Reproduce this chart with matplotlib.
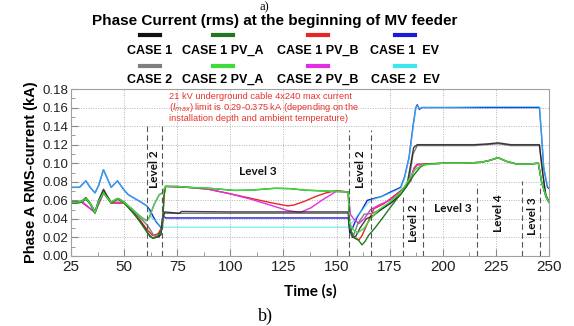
import matplotlib
matplotlib.use("Agg")
import matplotlib.pyplot as plt
from matplotlib.lines import Line2D
from matplotlib.ticker import MultipleLocator

# ---------------- data ----------------
t_case1 = [25, 28, 30, 32, 34, 36.3, 38, 40.3, 42, 43.9, 46.9, 48, 50, 54, 58.3, 62.2, 63.8, 66.1, 67.4, 68, 69, 76, 77,
           100, 130, 155.5, 156.2, 157.5, 159, 161, 164, 167.6, 171, 175.5, 180, 183, 185, 186.3, 188, 200, 215, 222,
           226, 232, 245.5, 247, 248.5, 250]
v_case1 = [0.058, 0.058, 0.059, 0.063, 0.057, 0.047, 0.060, 0.072, 0.065, 0.058, 0.062, 0.061, 0.058, 0.047, 0.035,
           0.021, 0.019, 0.021, 0.023, 0.040, 0.0475, 0.046, 0.048, 0.0475, 0.0475, 0.0475, 0.028, 0.020, 0.021, 0.030,
           0.040, 0.044, 0.050, 0.057, 0.066, 0.075, 0.100, 0.117, 0.120, 0.120, 0.120, 0.121, 0.122, 0.120, 0.120,
           0.090, 0.065, 0.058]

t_case2 = [25, 28, 30, 32, 34, 36.3, 38, 40.3, 42, 43.9, 46.9, 48, 50, 54, 58, 61, 64, 66.5, 68, 69, 100, 155.5, 156.2,
           158, 160, 163, 167, 172, 176, 180, 184, 186, 188, 200, 215, 226, 232, 245.5, 247, 248.5, 250]
v_case2 = [0.058, 0.058, 0.059, 0.062, 0.057, 0.048, 0.060, 0.070, 0.064, 0.058, 0.062, 0.061, 0.058, 0.050, 0.040,
           0.033, 0.022, 0.020, 0.035, 0.046, 0.046, 0.046, 0.030, 0.022, 0.035, 0.045, 0.046, 0.052, 0.058, 0.066,
           0.080, 0.110, 0.119, 0.119, 0.119, 0.121, 0.119, 0.119, 0.090, 0.066, 0.059]

t_case1_pva = [25, 28, 30, 32, 34, 36.3, 38, 40.3, 42, 43.9, 46.9, 48, 50, 55, 58, 61, 63.5, 66, 68, 68.8, 69.5, 75, 80,
               90, 102, 110, 121, 128, 135, 145, 155.5, 156.2, 158, 160, 162, 163.5, 165, 168, 172, 175.5, 181.6, 186.3,
               189.5, 192, 200, 210, 218, 222, 226, 230, 235, 240, 245, 246.5, 248.6, 250]
v_case1_pva = [0.057, 0.057, 0.058, 0.061, 0.056, 0.046, 0.058, 0.068, 0.063, 0.057, 0.061, 0.060, 0.057, 0.045, 0.035,
               0.025, 0.019, 0.022, 0.030, 0.065, 0.075, 0.075, 0.074, 0.073, 0.0707, 0.071, 0.073, 0.0726, 0.071,
               0.070, 0.069, 0.030, 0.020, 0.018, 0.012, 0.016, 0.022, 0.030, 0.042, 0.053, 0.071, 0.087, 0.096, 0.099,
               0.100, 0.100, 0.101, 0.103, 0.106, 0.102, 0.099, 0.099, 0.100, 0.080, 0.064, 0.058]

t_case2_pva = [25, 28, 30, 32, 34, 36.3, 38, 40.3, 42, 43.9, 46.9, 48, 50, 55, 58, 60.5, 62, 64, 66.5, 68, 69.5, 75, 80,
               90, 102, 110, 121, 128, 135, 145, 155.5, 156.2, 158, 160, 163, 166, 170, 175, 180, 184, 187, 190, 200,
               210, 218, 222, 226, 230, 235, 240, 245, 246.5, 248.6, 250]
v_case2_pva = [0.058, 0.058, 0.059, 0.062, 0.057, 0.047, 0.059, 0.068, 0.063, 0.058, 0.062, 0.061, 0.058, 0.048, 0.042,
               0.038, 0.042, 0.055, 0.066, 0.068, 0.075, 0.075, 0.074, 0.073, 0.0707, 0.071, 0.073, 0.0726, 0.071,
               0.070, 0.069, 0.035, 0.028, 0.025, 0.030, 0.040, 0.050, 0.058, 0.068, 0.082, 0.093, 0.098, 0.100, 0.100,
               0.101, 0.103, 0.106, 0.102, 0.099, 0.099, 0.100, 0.080, 0.064, 0.058]

t_case1_pvb = [25, 30, 36.3, 40.3, 43.9, 50, 55, 58, 61, 63.5, 66, 68, 68.8, 69.5, 80, 89.6, 100, 110, 120, 127, 130,
               135, 140, 145, 150, 155.5, 156.2, 158, 160.4, 162, 164.5, 167.6, 172, 175.5, 180, 185, 186.5, 188, 200,
               210, 218, 222, 226, 230, 235, 240, 245, 246.5, 248.6, 250]
v_case1_pvb = [0.057, 0.058, 0.047, 0.068, 0.057, 0.057, 0.046, 0.037, 0.028, 0.022, 0.024, 0.032, 0.065, 0.075, 0.074,
               0.072, 0.067, 0.062, 0.057, 0.054, 0.055, 0.059, 0.064, 0.068, 0.0705, 0.069, 0.030, 0.020, 0.017, 0.022,
               0.035, 0.051, 0.056, 0.062, 0.070, 0.081, 0.095, 0.099, 0.100, 0.100, 0.101, 0.103, 0.106, 0.102,
               0.099, 0.099, 0.100, 0.080, 0.064, 0.058]

t_case2_pvb = [25, 30, 36.3, 40.3, 43.9, 50, 55, 58, 60.5, 62, 64, 66.5, 68, 69.5, 80, 89.6, 100, 110, 120, 127, 133,
               138, 143, 148, 150, 155.5, 156.5, 158, 160.5, 163, 166, 170, 175, 180, 184, 186, 188, 200, 210, 218,
               222, 226, 230, 235, 240, 245, 246.5, 248.6, 250]
v_case2_pvb = [0.058, 0.059, 0.047, 0.068, 0.058, 0.058, 0.048, 0.042, 0.038, 0.042, 0.055, 0.066, 0.068, 0.075, 0.074,
               0.072, 0.067, 0.061, 0.054, 0.049, 0.047, 0.052, 0.060, 0.067, 0.070, 0.069, 0.045, 0.040, 0.035, 0.040,
               0.050, 0.055, 0.060, 0.068, 0.078, 0.092, 0.098, 0.100, 0.100, 0.101, 0.103, 0.106, 0.102, 0.099,
               0.099, 0.100, 0.080, 0.064, 0.058]

t_case1_ev = [25, 29, 32, 34, 36.3, 38, 40.3, 42, 43.9, 46.9, 50, 52, 55, 58, 60.7, 62, 63.8, 65, 66.5, 67.8, 68.2,
              69.5, 100, 155.5, 156.2, 157.5, 159.7, 162, 164.5, 167.6, 171, 175.5, 180.2, 182, 184.1, 186, 187.3,
              188, 189, 190, 200, 220, 245.5, 246.5, 247.5, 249.3, 250]
v_case1_ev = [0.074, 0.074, 0.081, 0.074, 0.068, 0.076, 0.093, 0.084, 0.074, 0.081, 0.071, 0.066, 0.062, 0.058, 0.054,
              0.050, 0.042, 0.037, 0.033, 0.0297, 0.044, 0.041, 0.041, 0.041, 0.025, 0.030, 0.042, 0.050, 0.060, 0.062,
              0.064, 0.069, 0.074, 0.085, 0.106, 0.140, 0.160, 0.163, 0.158, 0.160, 0.160, 0.160, 0.160, 0.130, 0.095,
              0.074, 0.073]

t_case2_ev = [25, 29, 32, 34, 36.3, 38, 40.3, 42, 43.9, 46.9, 50, 52, 55, 58, 60.7, 63, 65.4, 66.5, 68, 100, 155.5,
              156.2, 158, 160, 163, 166, 170, 175.5, 180.2, 182, 184.1, 186, 187.3, 188, 189, 190, 200, 220, 245.5,
              246.5, 247.5, 249.3, 250]
v_case2_ev = [0.074, 0.074, 0.081, 0.074, 0.068, 0.076, 0.093, 0.084, 0.074, 0.081, 0.071, 0.066, 0.062, 0.058, 0.054,
              0.041, 0.037, 0.033, 0.031, 0.031, 0.031, 0.033, 0.038, 0.044, 0.052, 0.060, 0.063, 0.068, 0.073, 0.084,
              0.105, 0.138, 0.160, 0.162, 0.159, 0.160, 0.160, 0.161, 0.161, 0.130, 0.096, 0.075, 0.074]

series_labels = ["CASE 1", "CASE 1 PV_A", "CASE 1 PV_B", "CASE 1  EV",
                 "CASE 2", "CASE 2 PV_A", "CASE 2 PV_B", "CASE 2  EV"]

# vertical level markers: (time, top value)
level_lines_t = [60.7, 67.8, 155.8, 166.2, 181.4, 190.9, 215.9, 237.1, 245.9]
level_lines_top = [0.140, 0.140, 0.136, 0.136, 0.064, 0.076, 0.078, 0.081, 0.078]
level_texts = ["Level 2", "Level 3", "Level 2", "Level 2", "Level 3", "Level 4", "Level 3"]
level_text_t = [64.2, 113, 161.2, 186.2, 204.5, 226.2, 242.2]
level_text_v = [0.094, 0.091, 0.094, 0.035, 0.051, 0.046, 0.043]
level_text_rot = [90, 0, 90, 90, 0, 90, 90]

# ---------------- figure ----------------
W, H = 574, 326
fig = plt.figure(figsize=(W / 100, H / 100), dpi=100)
ax = fig.add_axes([71 / W, 1 - 256 / H, (549 - 71) / W, (256 - 89) / H])

col = {
    "c1": "#111111", "c1a": "#1f7a1f", "c1b": "#e82525", "c1e": "#1a1ad8",
    "c2": "#7f7f7f", "c2a": "#3ddc3d", "c2b": "#e22ee2", "c2e": "#3ee6f2",
}
lw = 1.0
ax.plot(t_case1_ev, v_case1_ev, color=col["c1e"], lw=lw)
ax.plot(t_case2_ev, v_case2_ev, color=col["c2e"], lw=lw, alpha=0.65)
ax.plot(t_case1_pvb, v_case1_pvb, color=col["c1b"], lw=lw)
ax.plot(t_case2_pvb, v_case2_pvb, color=col["c2b"], lw=lw)
ax.plot(t_case2, v_case2, color=col["c2"], lw=lw)
ax.plot(t_case1, v_case1, color=col["c1"], lw=lw, alpha=0.8)
ax.plot(t_case1_pva, v_case1_pva, color=col["c1a"], lw=lw)
ax.plot(t_case2_pva, v_case2_pva, color=col["c2a"], lw=lw)

for tl, top in zip(level_lines_t, level_lines_top):
    ax.plot([tl, tl], [0, top], color="#555555", lw=0.8, ls=(0, (5, 3)))

for s, tx, vy, r in zip(level_texts, level_text_t, level_text_v, level_text_rot):
    ax.text(tx, vy, s, rotation=r, ha="center", va="center", fontsize=8.5,
            fontweight="bold", family="Lato", color="#111111")

ax.text(71, 0.177, "21 kV underground cable 4x240 max current\n"
        "($I_{max}$) limit is 0.29-0.375 kA (depending on the\n"
        "installation depth and ambient temperature)",
        ha="left", va="top", fontsize=6.7, color="#e8352d", family="Liberation Sans", linespacing=1.0)

ax.set_xlim(25, 250)
ax.set_ylim(0, 0.18)
ax.xaxis.set_major_locator(MultipleLocator(25))
ax.xaxis.set_minor_locator(MultipleLocator(12.5))
ax.yaxis.set_major_locator(MultipleLocator(0.02))
ax.yaxis.set_minor_locator(MultipleLocator(0.01))
ax.yaxis.set_major_formatter(plt.FormatStrFormatter("%.2f"))
ax.grid(True, which="major", color="#b5b5b5", ls=(0, (1, 1.5)), lw=0.7)
for sp in ax.spines.values():
    sp.set_color("#a0a0a0")
    sp.set_linewidth(0.8)
ax.tick_params(axis="both", which="both", direction="in", color="#888888")
ax.tick_params(axis="x", which="major", length=5, labelsize=11, pad=3)
ax.tick_params(axis="y", which="major", length=5, labelsize=9.5, pad=2)
ax.tick_params(which="minor", length=3)
for lab in ax.get_xticklabels() + ax.get_yticklabels():
    lab.set_family("Liberation Sans")
    lab.set_color("#222222")

ax.set_xlabel("Time (s)", fontsize=11, fontweight="bold", family="Lato", labelpad=7)
ax.set_ylabel("Phase A RMS-current (kA)", fontsize=10.5, fontweight="bold", family="Liberation Sans", labelpad=3)

# title and legend
fig.text(275 / W, 1 - 21 / H, "Phase Current (rms) at the beginning of MV feeder", ha="center", va="center",
         fontsize=11, fontweight="bold", family="Liberation Sans")
leg_colors = [col["c1"], col["c1a"], col["c1b"], col["c1e"], col["c2"], col["c2a"], col["c2b"], col["c2e"]]
col_x = [150, 223, 318, 405]
line_y = [35, 66]
lab_y = [51, 80]
for i, (lab, c) in enumerate(zip(series_labels, leg_colors)):
    r, k = divmod(i, 4)
    x = col_x[k]
    fig.add_artist(Line2D([(x - 10) / W, (x + 10) / W], [1 - line_y[r] / H] * 2, color=c, lw=3,
                          transform=fig.transFigure))
    fig.text(x / W, 1 - lab_y[r] / H, lab, ha="center", va="center", fontsize=9, fontweight="bold",
             family="Liberation Sans")

fig.text(264 / W, 1 - 1 / H, "a)", ha="center", va="top", fontsize=9, family="Liberation Serif")
fig.text(265 / W, 1 - 316 / H, "b)", ha="center", va="center", fontsize=13, family="Liberation Serif")

fig.savefig("out.png", dpi=100)
